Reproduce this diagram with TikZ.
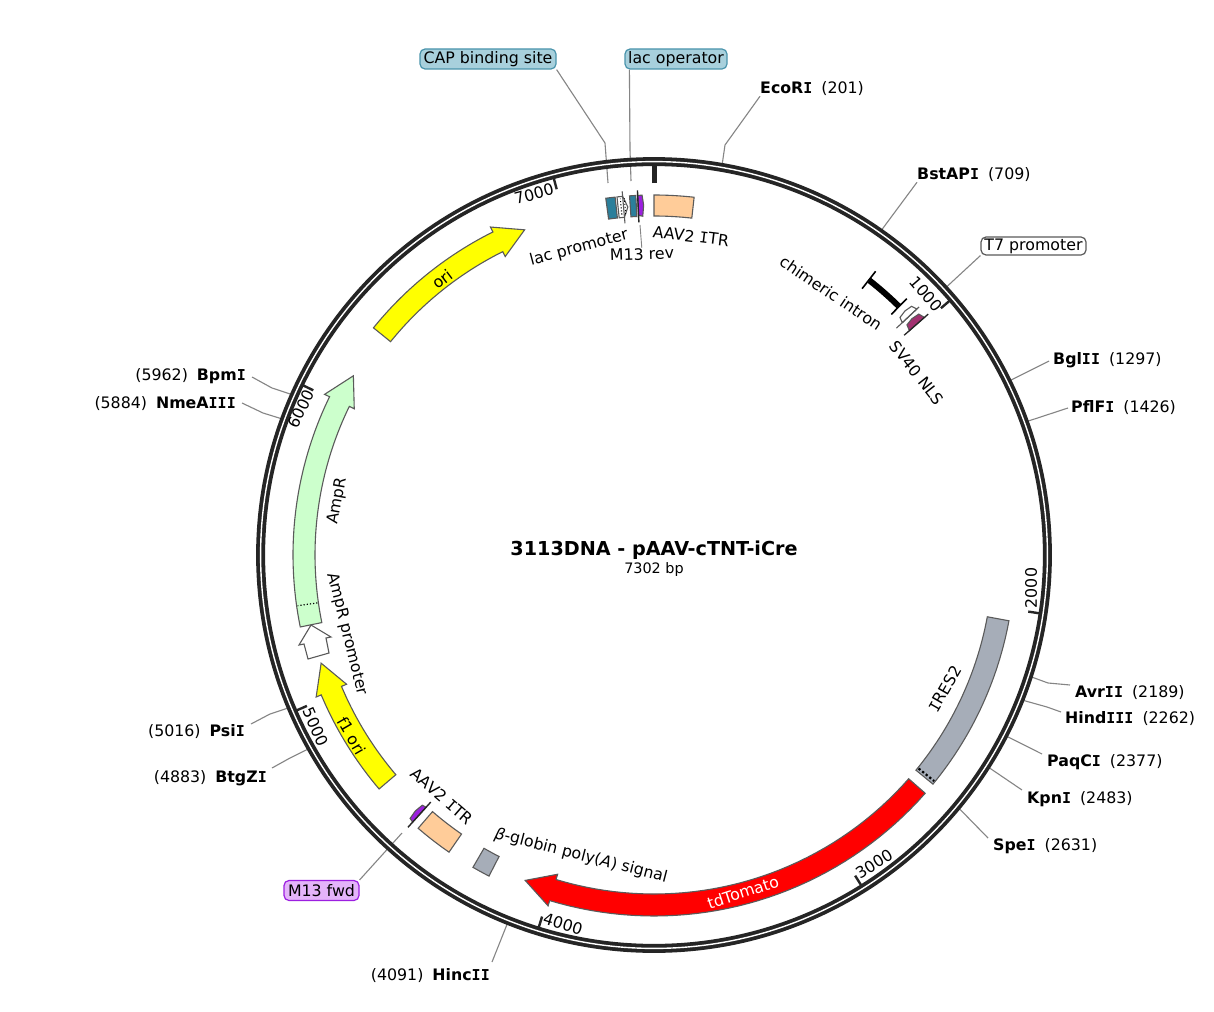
\documentclass[tikz,border=0pt]{standalone}
\usepackage{fontspec}
\setmainfont{DejaVu Sans}
\newfontfamily\monoface[Scale=0.95]{DejaVu Sans Mono}
\newcommand\SI{{\monoface I}}
\definecolor{stroke}{HTML}{5A5A5A}
\definecolor{ringc}{HTML}{252525}
\definecolor{leaderc}{HTML}{858585}
\definecolor{teal}{HTML}{2B7F9B}
\definecolor{purp}{HTML}{9C1FE0}
\definecolor{mag}{HTML}{A23070}
\definecolor{orng}{HTML}{FFCC99}
\definecolor{grayf}{HTML}{A6ADB8}
\definecolor{grn}{HTML}{CCFFCC}
\definecolor{blueb}{HTML}{A8D0DC}
\definecolor{bluee}{HTML}{4A94AC}
\definecolor{purb}{HTML}{E4B4FA}
\definecolor{yelw}{RGB}{255,255,0}
\definecolor{redf}{RGB}{255,0,0}
\tikzset{
  feature/.style={draw=stroke,line width=1.1pt,line join=miter},
  leader/.style={draw=leaderc,line width=1.1pt,line join=round},
  tickm/.style={draw=ringc,line width=2.4pt},
  lbl/.style={inner sep=0pt,font=\fontsize{15.8}{19}\selectfont},
  site/.style={inner sep=0pt,font=\fontsize{15.8}{19}\selectfont},
  badge/.style={rounded corners=5pt,line width=1.2pt,inner sep=0pt,minimum height=20pt,font=\fontsize{15.8}{19}\selectfont},
}
% style, rin, rout, a1, a2
\newcommand\ArcBox[5]{\draw[feature,#1] plot[domain=#4:#5,samples=30] ({654+#3*sin(\x)},{555-#3*cos(\x)}) -- plot[domain=#5:#4,samples=30] ({654+#2*sin(\x)},{555-#2*cos(\x)}) -- cycle;}
% style, tail, shoulder, tip
\newcommand\ArcArrow[4]{\draw[feature,#1] plot[domain=#2:#3,samples=40] ({654+361*sin(\x)},{555-361*cos(\x)}) -- ({654+366.5*sin(#3)},{555-366.5*cos(#3)}) -- ({654+350*sin(#4)},{555-350*cos(#4)}) -- ({654+333.5*sin(#3)},{555-333.5*cos(#3)}) -- plot[domain=#3:#2,samples=40] ({654+339*sin(\x)},{555-339*cos(\x)}) -- cycle;}
% radial stroke: style, r1, r2, a
\newcommand\Radial[4]{\draw[#1] ({654+#2*sin(#4)},{555-#2*cos(#4)}) -- ({654+#3*sin(#4)},{555-#3*cos(#4)});}
% thin marker: style, a-base, a-body, a-tip, r-inner, r-outer of the body
\newcommand\Marker[6]{\draw[feature,#1] ({654+340*sin(#2)},{555-340*cos(#2)}) -- ({654+360*sin(#2)},{555-360*cos(#2)}) -- ({654+#6*sin(#3)},{555-#6*cos(#3)}) -- ({654+350*sin(#4)},{555-350*cos(#4)}) -- ({654+#5*sin(#3)},{555-#5*cos(#3)}) -- cycle;}
\newcommand\SitePt[3]{\coordinate (#1) at ({654+#2*sin(#3)},{555-#2*cos(#3)});}
\begin{document}
\begin{tikzpicture}[x=1pt,y=-1pt]
\useasboundingbox (0,0) rectangle (1214,1011);
\fill[white] (0,0) rectangle (1214,1011);

% site labels
\node[site,anchor=west] (eco) at (760,89) {\textbf{EcoR\SI}\hspace{9pt}(201)};
\node[site,anchor=west] (bst) at (917,175) {\textbf{BstAP\SI}\hspace{9pt}(709)};
\node[site,anchor=west] (bgl) at (1053,360) {\textbf{Bgl\SI\SI}\hspace{9pt}(1297)};
\node[site,anchor=west] (pfl) at (1071,408) {\textbf{PflF\SI}\hspace{9pt}(1426)};
\node[site,anchor=west] (avr) at (1075,693) {\textbf{Avr\SI\SI}\hspace{9pt}(2189)};
\node[site,anchor=west] (hin) at (1065,719) {\textbf{Hind\SI\SI\SI}\hspace{9pt}(2262)};
\node[site,anchor=west] (paq) at (1047,762) {\textbf{PaqC\SI}\hspace{9pt}(2377)};
\node[site,anchor=west] (kpn) at (1027,799) {\textbf{Kpn\SI}\hspace{9pt}(2483)};
\node[site,anchor=west] (spe) at (993,846) {\textbf{Spe\SI}\hspace{9pt}(2631)};
\node[site,anchor=east] (hnc) at (490,976) {(4091)\hspace{9pt}\textbf{Hinc\SI\SI}};
\node[site,anchor=east] (btg) at (267,778) {(4883)\hspace{9pt}\textbf{BtgZ\SI}};
\node[site,anchor=east] (psi) at (245,732) {(5016)\hspace{9pt}\textbf{Psi\SI}};
\node[site,anchor=east] (nme) at (236,404) {(5884)\hspace{9pt}\textbf{NmeA\SI\SI\SI}};
\node[site,anchor=east] (bpm) at (246,376) {(5962)\hspace{9pt}\textbf{Bpm\SI}};

% boxed labels
\node[badge,draw=bluee,fill=blueb,minimum width=136pt] (cap) at (488,59) {CAP binding site};
\node[badge,draw=bluee,fill=blueb,minimum width=102pt] (lop) at (676,59) {lac operator};
\node[badge,draw=stroke,fill=white,minimum width=105pt,minimum height=18pt] (t7) at (1033.5,246) {T7 promoter};
\node[badge,draw=purp,fill=purb,minimum width=75pt] (m13f) at (321.5,890.5) {M13 fwd};

% site points on the ring
\SitePt{pEco}{396}{9.9}
\SitePt{pBst}{396}{35}
\SitePt{pT7}{395}{47.5}
\SitePt{pBgl}{396}{63.9}
\SitePt{pPfl}{396}{70.3}
\SitePt{pAvr}{396}{107.9}
\SitePt{pHin}{396}{111.5}
\SitePt{pPaq}{396}{117.2}
\SitePt{pKpn}{396}{122.4}
\SitePt{pSpe}{396}{129.7}
\SitePt{pHnc}{396}{201.7}
\SitePt{pBtg}{396}{240.7}
\SitePt{pPsi}{396}{247.3}
\SitePt{pNme}{396}{290.1}
\SitePt{pBpm}{396}{293.9}
\coordinate (pCap) at (608,183);
\coordinate (pLop) at (631,181);
\coordinate (pM13f) at (402,833);

% leaders
\draw[leader] (eco.south west) -- (725,145) -- (pEco);
\draw[leader] (bst.south west) -- (pBst);
\draw[leader] (t7.south west) -- (pT7);
\draw[leader] ([shift={(-4,1)}]bgl.west) -- (pBgl);
\draw[leader] ([shift={(-3,0)}]pfl.west) -- (pPfl);
\draw[leader] ([shift={(-5,-8)}]avr.west) -- (1048,683) -- (pAvr);
\draw[leader] ([shift={(-4,-7)}]hin.west) -- (1047,707) -- (pHin);
\draw[leader] ([shift={(-5,-8)}]paq.west) -- (pPaq);
\draw[leader] ([shift={(-5,-9)}]kpn.west) -- (pKpn);
\draw[leader] ([shift={(-5,-8)}]spe.west) -- (pSpe);
\draw[leader] ([shift={(2,-14)}]hnc.east) -- (pHnc);
\draw[leader] ([shift={(5,-10)}]btg.east) -- (290,758) -- (pBtg);
\draw[leader] ([shift={(6,-8)}]psi.east) -- (270,714) -- (pPsi);
\draw[leader] ([shift={(6,-1)}]nme.east) -- (263,413) -- (pNme);
\draw[leader] ([shift={(6,1)}]bpm.east) -- (272,388) -- (pBpm);
\draw[leader] (cap.south east) -- (605,143) -- (pCap);
\draw[leader] ([xshift=5pt]lop.south west) -- (630,150) -- (pLop);
\draw[leader] (m13f.north east) -- (pM13f);

% plasmid ring
\draw[ringc,line width=9pt] (654,555) circle[radius=393.4pt];
\draw[white,line width=1.4pt] (654,555) circle[radius=393.4pt];

% ticks
\Radial{draw=ringc,line width=5pt}{372}{390}{0}
\Radial{tickm}{378.5}{390}{49.3}
\Radial{tickm}{378.5}{390}{98.6}
\Radial{tickm}{378.5}{390}{147.9}
\Radial{tickm}{378.5}{390}{197.2}
\Radial{tickm}{378.5}{390}{246.5}
\Radial{tickm}{378.5}{390}{295.8}
\Radial{tickm}{378.5}{390}{345.1}
\node[lbl,rotate=-49] (t1) at (926,294) {1000};
\node[lbl,rotate=90] (t2) at (1031,588) {2000};
\node[lbl,rotate=32] (t3) at (874,864) {3000};
\node[lbl,rotate=-17] (t4) at (563,924) {4000};
\node[lbl,rotate=-66] (t5) at (316,727) {5000};
\node[lbl,rotate=64] (t6) at (301,409) {6000};
\node[lbl,rotate=15] (t7k) at (534,194) {7000};

% large features
\ArcArrow{fill=yelw}{-51}{-26.5}{-21.7}
\ArcArrow{fill=grn}{-101.5}{-64}{-59.2}
\ArcArrow{fill=yelw}{-130.4}{-112.8}{-108}
\ArcArrow{fill=redf}{131.3}{196.8}{201.6}
\Radial{draw=black,line width=1.2pt,dotted}{340}{360}{-98.1}
\ArcBox{fill=grayf}{339}{361}{100.5}{129.4}
\Radial{draw=black,line width=2.2pt,dash pattern=on 2.3pt off 2.3pt}{340}{360}{128.9}
\ArcBox{fill=orng}{339}{360}{0}{6.4}
\ArcBox{fill=orng}{339}{361}{-145.4}{-139.2}
\ArcBox{fill=grayf}{339}{361}{-152.8}{-149.9}
\ArcBox{fill=teal}{339}{360}{-7.7}{-6.2}
\ArcBox{fill=teal}{339}{360}{-3.9}{-2.9}

% AmpR promoter
\draw[feature,fill=white] (308,659) -- (304,644) -- (299,645) -- (311,625) -- (331,637) -- (326,638) -- (329,653) -- cycle;

% lac promoter
\draw[feature,fill=white] ({654+339*sin(-5.9)},{555-339*cos(-5.9)}) -- ({654+360*sin(-5.9)},{555-360*cos(-5.9)}) -- ({654+360*sin(-5)},{555-360*cos(-5)}) -- ({654+349*sin(-4.3)},{555-349*cos(-4.3)}) -- ({654+339*sin(-5)},{555-339*cos(-5)}) -- cycle;
\Radial{draw=black,line width=1.1pt,dotted}{342}{358}{-5.4}
\Radial{draw=black,line width=1.1pt,dotted}{342}{358}{-4.75}
\Radial{draw=stroke,line width=1.1pt}{333}{365}{-5}

% M13 rev
\Marker{fill=purp}{-2.6}{-1.9}{-1.7}{339}{360}
\Radial{draw=ringc,line width=1.4pt}{333}{365}{-2.6}
% M13 fwd
\Marker{fill=purp}{-137.9}{-137.2}{-137}{341}{359}
\Radial{draw=ringc,line width=1.4pt}{333}{367}{-137.9}

% chimeric intron
\draw[black,line width=6pt] plot[domain=38.1:44.6,samples=12] ({654+349*sin(\x)},{555-349*cos(\x)});
\Radial{draw=black,line width=1.6pt}{338}{360}{38}
\Radial{draw=black,line width=1.6pt}{338}{360}{44.6}
% unnamed white marker and SV40 NLS
\Marker{fill=white}{46.9}{46}{45.8}{342}{358}
\Radial{draw=stroke,line width=1.1pt}{332}{363}{46.9}
\Marker{fill=mag}{48.7}{47.7}{47.5}{342}{358}
\Radial{draw=ringc,line width=1.3pt}{333}{365}{48.7}

% M13 rev short leader and label
\node[lbl,rotate=2] (m13r) at (642,254) {M13 rev};
\draw[leader,line width=0.9pt] (640,225) -- (m13r.north);

% feature labels
\node[lbl,rotate=15] (lacp) at (579,248) {lac promoter};
\node[lbl,rotate=-7] (itr1) at (691,236) {AAV2 \SI TR};
\node[lbl,rotate=-34] (chim) at (831,293) {chimeric intron};
\node[lbl,rotate=-52] (sv) at (917,373) {SV40 NLS};
\node[lbl,rotate=37] (ori) at (442,279) {ori};
\node[lbl,rotate=80] (amp) at (338,501) {AmpR};
\node[lbl,rotate=-76] (ampp) at (347,634) {AmpR promoter};
\node[lbl,rotate=-60] (f1) at (352,736) {f1 ori};
\node[lbl,rotate=-41] (itr2) at (442,796) {AAV2 \SI TR};
\node[lbl,rotate=-14.5] (bglob) at (581,856) {{\itshape β}-globin poly({\itshape A}) signal};
\node[lbl,rotate=18,text=white] (td) at (743,892) {tdTomato};
\node[lbl,rotate=60] (ires) at (945,689) {\SI RES2};

% centre
\node[inner sep=0pt,font=\bfseries\fontsize{19.2}{23}\selectfont] (title) at (654,550) {3113DNA - pAAV-cTNT-iCre};
\node[inner sep=0pt,font=\fontsize{14.4}{17}\selectfont] (bp) at (654,570) {7302 bp};
\end{tikzpicture}
\end{document}
